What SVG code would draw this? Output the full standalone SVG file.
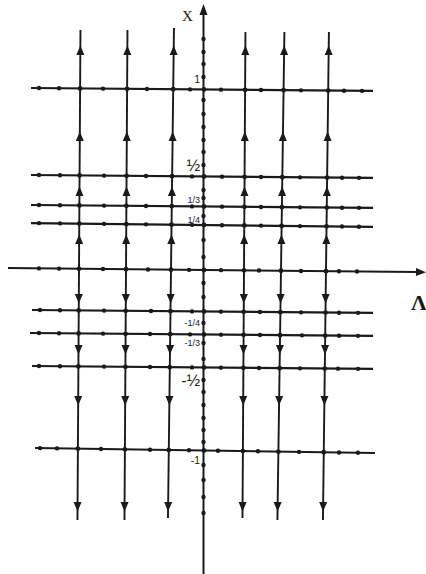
<svg xmlns="http://www.w3.org/2000/svg" xmlns:xlink="http://www.w3.org/1999/xlink" width="426" height="574" viewBox="0 0 426 574">
<defs>
<style>
line{stroke:#1a1a1a;stroke-linecap:butt}
.h line{stroke-width:2.2}
.v line{stroke-width:1.9}
.ax line{stroke-width:2}
circle{fill:#1a1a1a}
.ar{fill:#1a1a1a}
.lbl{font-family:"Liberation Sans",Arial,sans-serif;fill:#222;text-anchor:end}
.big{font-family:"Liberation Serif","Times New Roman",serif;fill:#1a1a1a}
</style>
<path id="up" class="ar" d="M0,-5.5 L4,4 L-4,4 Z"/>
<path id="dn" class="ar" d="M0,5.5 L4,-4 L-4,-4 Z"/>
</defs>
<rect width="426" height="574" fill="#ffffff"/>

<g id="connectors">
<g id="axis-x" class="ax">
<line x1="203.5" y1="12" x2="203.5" y2="574"/>
<path class="ar" d="M203.5,4 L207.5,15 L199.5,15 Z"/>
<circle cx="203.5" cy="39" r="2.2"/><circle cx="203.5" cy="52" r="2.2"/><circle cx="203.5" cy="64" r="2.2"/><circle cx="203.5" cy="77" r="2.2"/>
<circle cx="203.5" cy="100" r="2.2"/><circle cx="203.5" cy="114" r="2.2"/><circle cx="203.5" cy="127" r="2.2"/><circle cx="203.5" cy="140" r="2.2"/>
<circle cx="203.5" cy="152" r="2.2"/><circle cx="203.5" cy="165" r="2.2"/><circle cx="203.5" cy="190" r="2.2"/><circle cx="203.5" cy="198" r="2.2"/>
<circle cx="203.5" cy="216" r="2.2"/><circle cx="203.5" cy="240" r="2.2"/><circle cx="203.5" cy="257" r="2.2"/><circle cx="203.5" cy="283" r="2.2"/>
<circle cx="203.5" cy="297" r="2.2"/><circle cx="203.5" cy="323" r="2.2"/><circle cx="203.5" cy="343" r="2.2"/><circle cx="203.5" cy="359" r="2.2"/>
<circle cx="203.5" cy="380" r="2.2"/><circle cx="203.5" cy="392" r="2.2"/><circle cx="203.5" cy="405" r="2.2"/><circle cx="203.5" cy="418" r="2.2"/>
<circle cx="203.5" cy="430" r="2.2"/><circle cx="203.5" cy="442" r="2.2"/><circle cx="203.5" cy="465" r="2.2"/><circle cx="203.5" cy="480" r="2.2"/>
<circle cx="203.5" cy="497" r="2.2"/><circle cx="203.5" cy="513" r="2.2"/>
</g>

<g id="axis-lambda" class="ax" transform="rotate(0.55 204 270)">
<line x1="8" y1="270" x2="418" y2="270"/>
<path class="ar" d="M426,270 L416,266 L416,274 Z"/>
<circle cx="39" cy="270" r="2.2"/><circle cx="59" cy="270" r="2.2"/><circle cx="79" cy="270" r="2.4"/><circle cx="103" cy="270" r="2.2"/>
<circle cx="126" cy="270" r="2.4"/><circle cx="148" cy="270" r="2.2"/><circle cx="171" cy="270" r="2.4"/><circle cx="189" cy="270" r="2.2"/>
<circle cx="204" cy="270" r="2.4"/><circle cx="221" cy="270" r="2.2"/><circle cx="244" cy="270" r="2.4"/><circle cx="259" cy="270" r="2.2"/>
<circle cx="281" cy="270" r="2.4"/><circle cx="301" cy="270" r="2.2"/><circle cx="326" cy="270" r="2.4"/><circle cx="339" cy="270" r="2.2"/>
<circle cx="357" cy="270" r="2.2"/>
</g>

<g id="h-1" class="h" transform="rotate(0.5 204 89.5)">
<line x1="31" y1="89.5" x2="373" y2="89.5"/>
<circle cx="39" cy="89.5" r="2.2"/><circle cx="59" cy="89.5" r="2.2"/><circle cx="80.1" cy="89.5" r="2.4"/><circle cx="103" cy="89.5" r="2.2"/>
<circle cx="127.1" cy="89.5" r="2.4"/><circle cx="147" cy="89.5" r="2.2"/><circle cx="173.2" cy="89.5" r="2.4"/><circle cx="190" cy="89.5" r="2.2"/>
<circle cx="204" cy="89.5" r="2.4"/><circle cx="221" cy="89.5" r="2.2"/><circle cx="245.1" cy="89.5" r="2.4"/><circle cx="261" cy="89.5" r="2.2"/>
<circle cx="283.6" cy="89.5" r="2.4"/><circle cx="301" cy="89.5" r="2.2"/><circle cx="328.2" cy="89.5" r="2.4"/><circle cx="344" cy="89.5" r="2.2"/>
<circle cx="362" cy="89.5" r="2.2"/>
</g>
<g id="h-half" class="h" transform="rotate(0.5 204 176.5)">
<line x1="31" y1="176.5" x2="373" y2="176.5"/>
<circle cx="39" cy="176.5" r="2.2"/><circle cx="60" cy="176.5" r="2.2"/><circle cx="79.6" cy="176.5" r="2.4"/><circle cx="104" cy="176.5" r="2.2"/>
<circle cx="126.6" cy="176.5" r="2.4"/><circle cx="146" cy="176.5" r="2.2"/><circle cx="172.1" cy="176.5" r="2.4"/><circle cx="192" cy="176.5" r="2.2"/>
<circle cx="204" cy="176.5" r="2.4"/><circle cx="222" cy="176.5" r="2.2"/><circle cx="244.6" cy="176.5" r="2.4"/><circle cx="261" cy="176.5" r="2.2"/>
<circle cx="282.3" cy="176.5" r="2.4"/><circle cx="300" cy="176.5" r="2.2"/><circle cx="327.1" cy="176.5" r="2.4"/><circle cx="342" cy="176.5" r="2.2"/>
<circle cx="359" cy="176.5" r="2.2"/>
</g>
<g id="h-third" class="h" transform="rotate(0.5 204 206.5)">
<line x1="31" y1="206.5" x2="373" y2="206.5"/>
<circle cx="39" cy="206.5" r="2.2"/><circle cx="60" cy="206.5" r="2.2"/><circle cx="79.4" cy="206.5" r="2.4"/><circle cx="104" cy="206.5" r="2.2"/>
<circle cx="126.4" cy="206.5" r="2.4"/><circle cx="146" cy="206.5" r="2.2"/><circle cx="171.8" cy="206.5" r="2.4"/><circle cx="192" cy="206.5" r="2.2"/>
<circle cx="204" cy="206.5" r="2.4"/><circle cx="222" cy="206.5" r="2.2"/><circle cx="244.4" cy="206.5" r="2.4"/><circle cx="261" cy="206.5" r="2.2"/>
<circle cx="281.9" cy="206.5" r="2.4"/><circle cx="300" cy="206.5" r="2.2"/><circle cx="326.8" cy="206.5" r="2.4"/><circle cx="342" cy="206.5" r="2.2"/>
<circle cx="359" cy="206.5" r="2.2"/>
</g>
<g id="h-quarter" class="h" transform="rotate(0.65 204 225)">
<line x1="31" y1="225" x2="373" y2="225"/>
<circle cx="39" cy="225" r="2.2"/><circle cx="60" cy="225" r="2.2"/><circle cx="79.3" cy="225" r="2.4"/><circle cx="104" cy="225" r="2.2"/>
<circle cx="126.3" cy="225" r="2.4"/><circle cx="146" cy="225" r="2.2"/><circle cx="171.5" cy="225" r="2.4"/><circle cx="192" cy="225" r="2.2"/>
<circle cx="204" cy="225" r="2.4"/><circle cx="222" cy="225" r="2.2"/><circle cx="244.3" cy="225" r="2.4"/><circle cx="261" cy="225" r="2.2"/>
<circle cx="281.6" cy="225" r="2.4"/><circle cx="300" cy="225" r="2.2"/><circle cx="326.5" cy="225" r="2.4"/><circle cx="342" cy="225" r="2.2"/>
<circle cx="359" cy="225" r="2.2"/>
</g>
<g id="h-mquarter" class="h" transform="rotate(0.5 204 311.5)">
<line x1="32" y1="311.5" x2="373" y2="311.5"/>
<circle cx="40" cy="311.5" r="2.2"/><circle cx="60" cy="311.5" r="2.2"/><circle cx="78.7" cy="311.5" r="2.4"/><circle cx="104" cy="311.5" r="2.2"/>
<circle cx="125.7" cy="311.5" r="2.4"/><circle cx="151" cy="311.5" r="2.2"/><circle cx="170.5" cy="311.5" r="2.4"/><circle cx="192" cy="311.5" r="2.2"/>
<circle cx="204" cy="311.5" r="2.4"/><circle cx="221" cy="311.5" r="2.2"/><circle cx="243.7" cy="311.5" r="2.4"/><circle cx="260" cy="311.5" r="2.2"/>
<circle cx="280.4" cy="311.5" r="2.4"/><circle cx="301" cy="311.5" r="2.2"/><circle cx="325.5" cy="311.5" r="2.4"/><circle cx="339" cy="311.5" r="2.2"/>
<circle cx="358" cy="311.5" r="2.2"/>
</g>
<g id="h-mthird" class="h" transform="rotate(0.5 204 334.5)">
<line x1="30" y1="334.5" x2="373" y2="334.5"/>
<circle cx="39" cy="334.5" r="2.2"/><circle cx="59" cy="334.5" r="2.2"/><circle cx="78.6" cy="334.5" r="2.4"/><circle cx="103" cy="334.5" r="2.2"/>
<circle cx="125.6" cy="334.5" r="2.4"/><circle cx="150" cy="334.5" r="2.2"/><circle cx="170.2" cy="334.5" r="2.4"/><circle cx="190" cy="334.5" r="2.2"/>
<circle cx="204" cy="334.5" r="2.4"/><circle cx="221" cy="334.5" r="2.2"/><circle cx="243.6" cy="334.5" r="2.4"/><circle cx="260" cy="334.5" r="2.2"/>
<circle cx="280.1" cy="334.5" r="2.4"/><circle cx="302" cy="334.5" r="2.2"/><circle cx="325.2" cy="334.5" r="2.4"/><circle cx="339" cy="334.5" r="2.2"/>
<circle cx="358" cy="334.5" r="2.2"/>
</g>
<g id="h-mhalf" class="h" transform="rotate(0.5 204 367.5)">
<line x1="32" y1="367.5" x2="373" y2="367.5"/>
<circle cx="39" cy="367.5" r="2.2"/><circle cx="60" cy="367.5" r="2.2"/><circle cx="78.4" cy="367.5" r="2.4"/><circle cx="104" cy="367.5" r="2.2"/>
<circle cx="125.4" cy="367.5" r="2.4"/><circle cx="150" cy="367.5" r="2.2"/><circle cx="169.8" cy="367.5" r="2.4"/><circle cx="192" cy="367.5" r="2.2"/>
<circle cx="204" cy="367.5" r="2.4"/><circle cx="221" cy="367.5" r="2.2"/><circle cx="243.4" cy="367.5" r="2.4"/><circle cx="259" cy="367.5" r="2.2"/>
<circle cx="279.6" cy="367.5" r="2.4"/><circle cx="300" cy="367.5" r="2.2"/><circle cx="324.8" cy="367.5" r="2.4"/><circle cx="338" cy="367.5" r="2.2"/>
<circle cx="358" cy="367.5" r="2.2"/>
</g>
<g id="h-m1" class="h" transform="rotate(0.84 204 450.5)">
<line x1="35" y1="450.5" x2="375" y2="450.5"/>
<circle cx="40" cy="450.5" r="2.2"/><circle cx="57" cy="450.5" r="2.2"/><circle cx="77.9" cy="450.5" r="2.4"/><circle cx="101" cy="450.5" r="2.2"/>
<circle cx="124.9" cy="450.5" r="2.4"/><circle cx="150" cy="450.5" r="2.2"/><circle cx="168.8" cy="450.5" r="2.4"/><circle cx="189" cy="450.5" r="2.2"/>
<circle cx="204" cy="450.5" r="2.4"/><circle cx="218" cy="450.5" r="2.2"/><circle cx="242.9" cy="450.5" r="2.4"/><circle cx="258" cy="450.5" r="2.2"/>
<circle cx="278.4" cy="450.5" r="2.4"/><circle cx="299" cy="450.5" r="2.2"/><circle cx="323.8" cy="450.5" r="2.4"/><circle cx="339" cy="450.5" r="2.2"/>
<circle cx="358" cy="450.5" r="2.2"/>
</g>

<g id="v-79" class="v" transform="rotate(0.35 79 270)">
<line x1="79" y1="30" x2="79" y2="520"/>
<use xlink:href="#up" x="79" y="51"/><use xlink:href="#up" x="79" y="137"/><use xlink:href="#up" x="79" y="192"/><use xlink:href="#up" x="79" y="240"/>
<use xlink:href="#dn" x="79" y="298"/><use xlink:href="#dn" x="79" y="349"/><use xlink:href="#dn" x="79" y="400"/><use xlink:href="#dn" x="79" y="506"/>
</g>
<g id="v-126" class="v" transform="rotate(0.35 126 270)">
<line x1="126" y1="30" x2="126" y2="520"/>
<use xlink:href="#up" x="126" y="51"/><use xlink:href="#up" x="126" y="137"/><use xlink:href="#up" x="126" y="192"/><use xlink:href="#up" x="126" y="240"/>
<use xlink:href="#dn" x="126" y="298"/><use xlink:href="#dn" x="126" y="349"/><use xlink:href="#dn" x="126" y="400"/><use xlink:href="#dn" x="126" y="506"/>
</g>
<g id="v-171" class="v" transform="rotate(0.7 171 270)">
<line x1="171" y1="28" x2="171" y2="518"/>
<use xlink:href="#up" x="171" y="51"/><use xlink:href="#up" x="171" y="137"/><use xlink:href="#up" x="171" y="192"/><use xlink:href="#up" x="171" y="240"/>
<use xlink:href="#dn" x="171" y="298"/><use xlink:href="#dn" x="171" y="349"/><use xlink:href="#dn" x="171" y="400"/><use xlink:href="#dn" x="171" y="506"/>
</g>
<g id="v-244" class="v" transform="rotate(0.35 244 270)">
<line x1="244" y1="32" x2="244" y2="518"/>
<use xlink:href="#up" x="244" y="51"/><use xlink:href="#up" x="244" y="137"/><use xlink:href="#up" x="244" y="192"/><use xlink:href="#up" x="244" y="240"/>
<use xlink:href="#dn" x="244" y="298"/><use xlink:href="#dn" x="244" y="349"/><use xlink:href="#dn" x="244" y="400"/><use xlink:href="#dn" x="244" y="506"/>
</g>
<g id="v-281" class="v" transform="rotate(0.82 281 270)">
<line x1="281" y1="32" x2="281" y2="520"/>
<use xlink:href="#up" x="281" y="51"/><use xlink:href="#up" x="281" y="137"/><use xlink:href="#up" x="281" y="192"/><use xlink:href="#up" x="281" y="240"/>
<use xlink:href="#dn" x="281" y="298"/><use xlink:href="#dn" x="281" y="349"/><use xlink:href="#dn" x="281" y="400"/><use xlink:href="#dn" x="281" y="506"/>
</g>
<g id="v-326" class="v" transform="rotate(0.7 326 270)">
<line x1="326" y1="32" x2="326" y2="520"/>
<use xlink:href="#up" x="326" y="51"/><use xlink:href="#up" x="326" y="137"/><use xlink:href="#up" x="326" y="192"/><use xlink:href="#up" x="326" y="240"/>
<use xlink:href="#dn" x="326" y="298"/><use xlink:href="#dn" x="326" y="349"/><use xlink:href="#dn" x="326" y="400"/><use xlink:href="#dn" x="326" y="506"/>
</g>
</g>

<g id="labels">
<text class="big" x="182" y="21" font-size="15">X</text>
<text class="big" x="411" y="310" font-size="22" font-weight="bold">Λ</text>
<text class="lbl" x="200" y="83" font-size="10.5">1</text>
<text class="lbl" x="200" y="171" font-size="16">½</text>
<text class="lbl" x="200" y="203" font-size="9">1/3</text>
<text class="lbl" x="200" y="223" font-size="9">1/4</text>
<text class="lbl" x="200" y="326" font-size="9">-1/4</text>
<text class="lbl" x="200" y="346" font-size="9">-1/3</text>
<text class="lbl" x="200" y="386" font-size="16">-½</text>
<text class="lbl" x="200" y="464" font-size="10.5">-1</text>
</g>
</svg>
